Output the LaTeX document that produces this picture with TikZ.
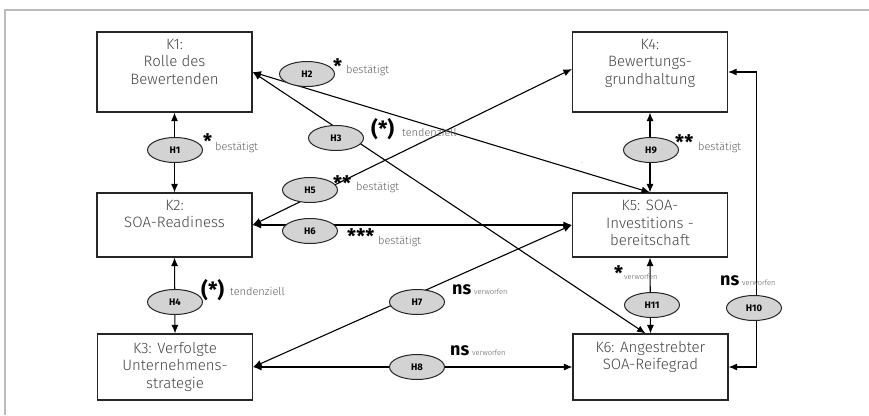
\documentclass[tikz,border=0pt]{standalone}
\usepackage{fontspec}
\setmainfont{Fira Sans}[UprightFont=* Light, BoldFont=* Bold]
\usetikzlibrary{arrows.meta,shapes.geometric}
\definecolor{boxtxt}{HTML}{444444}
\definecolor{notetxt}{HTML}{5E5E5E}
\definecolor{hypfill}{HTML}{D3D3D3}
\definecolor{framecol}{HTML}{BBBBBB}
\tikzset{
  box/.style={draw=black!85, line width=1.1pt, rectangle, minimum width=155pt, inner sep=0pt},
  boxtext/.style={font=\fontsize{15}{17.5}\selectfont, text=boxtxt, align=center, anchor=north, inner sep=0pt},
  hyp/.style={ellipse, draw=black!85, line width=1pt, fill=hypfill, minimum width=55pt, minimum height=25pt, inner sep=0pt, font=\bfseries\fontsize{9.5}{10}\selectfont},
  conn/.style={line width=1.1pt, {Latex[length=8.5pt,width=7pt]}-{Latex[length=8.5pt,width=7pt]}},
  stars/.style={font=\bfseries\fontsize{20}{20}\selectfont, anchor=base west, inner sep=0pt},
  paren/.style={font=\bfseries\fontsize{21}{21}\selectfont, anchor=base west, inner sep=0pt},
  verdict/.style={font=\fontsize{11}{11}\selectfont, text=notetxt, anchor=base west, inner sep=0pt},
  tiny/.style={font=\fontsize{7.5}{8}\selectfont, text=notetxt, anchor=base west, inner sep=0pt},
  nsmark/.style={font=\bfseries\fontsize{18}{18}\selectfont, anchor=base west, inner sep=0pt}
}
\begin{document}
\begin{tikzpicture}[x=1pt,y=-1pt]
\useasboundingbox (0,0) rectangle (869,415);
% frame
\draw[framecol, line width=1.5pt] (5,415) -- (5,10) -- (869,10);

% constructs
\node[box, minimum height=80pt] (k1) at (174.5,72) {};
\node[box, minimum height=80pt] (k4) at (650,72) {};
\node[box, minimum height=64pt] (k2) at (174.5,225) {};
\node[box, minimum height=64pt] (k5) at (650,225) {};
\node[box, minimum height=66pt] (k3) at (175,367) {};
\node[box, minimum height=66pt] (k6) at (650.5,367) {};

\node[boxtext] (k1t) at (174.5,39) {K1:\\Rolle des\\Bewertenden};
\node[boxtext] (k4t) at (650,39) {K4:\\Bewertungs-\\grundhaltung};
\node[boxtext] (k2t) at (174.5,200) {K2:\\SOA-Readiness};
\node[boxtext] (k5t) at (650,200) {K5: SOA-\\Investitions -\\bereitschaft};
\node[boxtext] (k3t) at (175,342) {K3: Verfolgte\\Unternehmens-\\strategie};
\node[boxtext] (k6t) at (650.5,341) {K6: Angestrebter\\SOA-Reifegrad};

% relations
\draw[conn] (k1.south) -- (k2.north);
\draw[conn] (k2.south) -- (k3.north);
\draw[conn] (k4.south) -- (k5.north);
\draw[conn] (k5.south) -- (k6.north);
\draw[conn] (k1.east) -- (k5.north);
\draw[conn] (k1.east) -- ([xshift=-5pt]k6.north);
\draw[conn] (k2.east) -- ([yshift=3pt]k4.west);
\draw[conn] (k2.east) -- (k5.west);
\draw[conn] (k3.east) -- (k5.west);
\draw[conn] (k3.east) -- (k6.west);
\draw[conn] (k6.east) -- ++(28,0) |- (k4.east);

% hypotheses
\node[hyp] (h1) at (175,150) {H1};
\node[hyp] (h2) at (307,74) {H2};
\node[hyp] (h3) at (336,138) {H3};
\node[hyp] (h5) at (310,190) {H5};
\node[hyp] (h6) at (310,231) {H6};
\node[hyp] (h4) at (175,302) {H4};
\node[hyp] (h7) at (417,302) {H7};
\node[hyp] (h8) at (417,367) {H8};
\node[hyp] (h9) at (651,150) {H9};
\node[hyp] (h11) at (652,305) {H11};
\node[hyp] (h10) at (754,308) {H10};

% results
\node[stars] (s1) at (203,148) {*};
\node[verdict] (v1) at (215,150) {bestätigt};
\node[stars] (s2) at (333,73) {*};
\node[verdict] (v2) at (346,73) {bestätigt};
\node[paren] (s3) at (371,136) {(*)};
\node[verdict] (v3) at (402,136) {tendenziell};
\node[stars] (s5) at (333,190) {**};
\node[verdict] (v5) at (356,190) {bestätigt};
\node[stars] (s6) at (347,243) {***};
\node[verdict] (v6) at (378,244) {bestätigt};
\node[paren] (s4) at (201,297) {(*)};
\node[verdict] (v4) at (230,295) {tendenziell};
\node[nsmark] (n7) at (452,294) {ns};
\node[tiny] (w7) at (474,294) {verworfen};
\node[nsmark] (n8) at (450,355) {ns};
\node[tiny] (w8) at (472,355) {verworfen};
\node[stars] (s9) at (675,149) {**};
\node[verdict] (v9) at (698,150) {bestätigt};
\node[stars] (s11) at (614,280) {*};
\node[tiny] (w11) at (624,279) {verworfen};
\node[nsmark] (n10) at (720,285) {ns};
\node[tiny] (w10) at (742,285) {verworfen};
\node[font=\fontsize{6}{6}\selectfont, inner sep=0pt] (dot) at (582,163) {.};
\end{tikzpicture}
\end{document}
